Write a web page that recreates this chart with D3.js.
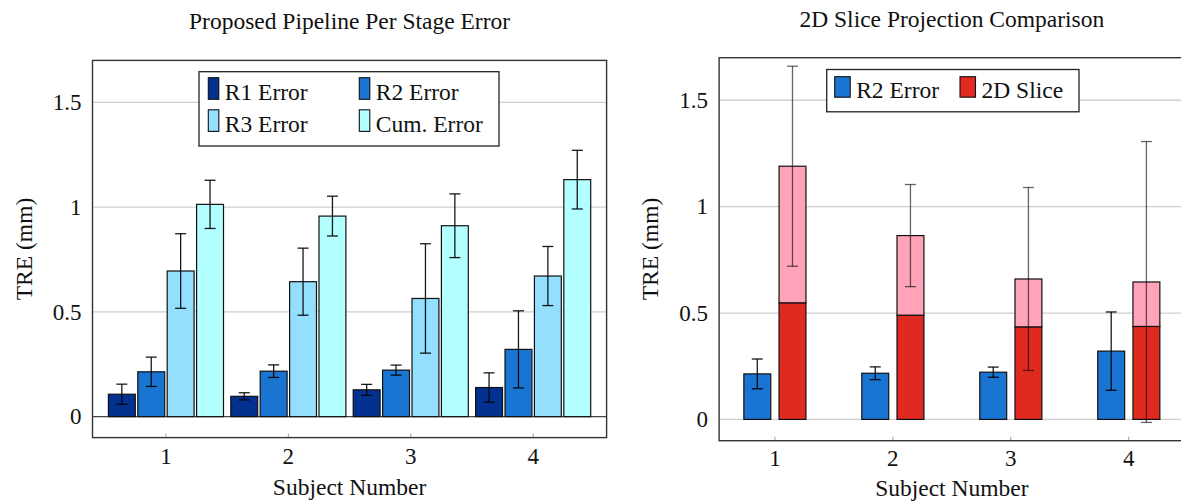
<!DOCTYPE html>
<html>
<head>
<meta charset="utf-8">
<script src="https://cdn.jsdelivr.net/npm/d3@7"></script>
<style>
  body { margin: 0; background: #fff; }
  text { font-family: "Liberation Serif", "Times New Roman", serif; fill: #111; }
  .grid line { stroke: #cfcfcf; stroke-width: 1.3; }
  .tick-label { font-size: 23px; }
  .axis-label { font-size: 23.5px; }
  .title { font-size: 23.5px; }
  .legend-text { font-size: 23.5px; }
</style>
</head>
<body>
<svg id="plot" width="1181" height="501"></svg>
<script>
// Data
const subjects = [1, 2, 3, 4];
const yTicks = [0, 0.5, 1, 1.5];

// left chart: per stage error (mean and half error bar)
const r1Mean = [0.107, 0.097, 0.128, 0.139];
const r1Err = [0.048, 0.017, 0.026, 0.070];
const r2Mean = [0.214, 0.217, 0.222, 0.321];
const r2Err = [0.070, 0.030, 0.024, 0.184];
const r3Mean = [0.695, 0.644, 0.564, 0.671];
const r3Err = [0.178, 0.160, 0.261, 0.141];
const cumMean = [1.013, 0.957, 0.911, 1.131];
const cumErr = [0.115, 0.095, 0.152, 0.140];

// right chart: R2 error vs 2D slice (stacked: lower part + upper part)
const sliceLower = [0.548, 0.490, 0.435, 0.437];
const sliceUpper = [0.642, 0.374, 0.225, 0.209];
const sliceErr = [0.470, 0.240, 0.430, 0.660];

const leftSeries = [
  { name: "R1 Error", mean: r1Mean, err: r1Err, color: "#02318f" },
  { name: "R2 Error", mean: r2Mean, err: r2Err, color: "#1a74d2" },
  { name: "R3 Error", mean: r3Mean, err: r3Err, color: "#93dffd" },
  { name: "Cum. Error", mean: cumMean, err: cumErr, color: "#b3ffff" }
];

const svg = d3.select("#plot");

// draws box, grid, tick labels and axis labels of one panel
function drawFrame(g, x, y, opts) {
  const [x0, x1] = x.range();
  const [yb, yt] = y.range();

  g.append("g").attr("class", "grid")
    .selectAll("line").data(yTicks).enter().append("line")
    .attr("x1", x0).attr("x2", x1)
    .attr("y1", d => y(d)).attr("y2", d => y(d))
    .style("stroke", d => (d === 0 && opts.darkZero) ? "#454545" : null);

  // small ticks on the bottom edge
  g.selectAll(".xt").data(subjects).enter().append("line")
    .attr("x1", d => x(d)).attr("x2", d => x(d))
    .attr("y1", yb).attr("y2", yb - 4)
    .attr("stroke", "#999").attr("stroke-width", 1);

  g.append("rect")
    .attr("x", x0).attr("y", yt)
    .attr("width", x1 - x0).attr("height", yb - yt)
    .attr("fill", "none").attr("stroke", "#333").attr("stroke-width", 1.4);

  g.selectAll(".ylab").data(yTicks).enter().append("text")
    .attr("class", "tick-label")
    .attr("x", x0 - 11).attr("y", d => y(d))
    .attr("dy", "0.34em")
    .attr("text-anchor", "end")
    .text(d => d);

  g.selectAll(".xlab").data(subjects).enter().append("text")
    .attr("class", "tick-label")
    .attr("x", d => x(d)).attr("y", opts.xTickY)
    .attr("text-anchor", "middle")
    .text(d => d);

  g.append("text")
    .attr("class", "axis-label")
    .attr("transform", `translate(${opts.yLabelX},249) rotate(-90)`)
    .attr("text-anchor", "middle")
    .text("TRE (mm)");

  g.append("text")
    .attr("class", "axis-label")
    .attr("x", (x0 + x1) / 2).attr("y", opts.xLabelY)
    .attr("text-anchor", "middle")
    .text("Subject Number");

  g.append("text")
    .attr("class", "title")
    .attr("x", (x0 + x1) / 2).attr("y", opts.titleY)
    .attr("text-anchor", "middle")
    .text(opts.title);
}

function errorBars(g, xs, lo, hi, y, color, opacity) {
  const eb = g.append("g")
    .attr("stroke", color).attr("stroke-width", 1.3)
    .attr("stroke-opacity", opacity);
  xs.forEach((cx, i) => {
    eb.append("line").attr("x1", cx).attr("x2", cx)
      .attr("y1", y(lo[i])).attr("y2", y(hi[i]));
    [lo[i], hi[i]].forEach(v => {
      eb.append("line").attr("x1", cx - 5.5).attr("x2", cx + 5.5)
        .attr("y1", y(v)).attr("y2", y(v));
    });
  });
}

// ---------------- left chart ----------------
const xL = d3.scaleLinear().domain([0.4, 4.6]).range([92.5, 606.6]);
const yL = d3.scaleLinear().domain([-0.1, 1.7]).range([437.6, 60.4]);
const gL = svg.append("g");

drawFrame(gL, xL, yL, {
  title: "Proposed Pipeline Per Stage Error",
  titleY: 29, xTickY: 464, xLabelY: 494.5, yLabelX: 31.5, darkZero: true
});

const barW = 26.9;
const stepL = 29.4;
leftSeries.forEach((s, k) => {
  const off = (k - 1.5) * stepL;
  gL.selectAll(null).data(s.mean).enter().append("rect")
    .attr("x", (d, i) => xL(subjects[i]) + off - barW / 2)
    .attr("y", d => yL(d))
    .attr("width", barW)
    .attr("height", d => yL(0) - yL(d))
    .attr("fill", s.color)
    .attr("stroke", "#111").attr("stroke-width", 1.2);
  errorBars(gL, subjects.map(v => xL(v) + off),
    s.mean.map((m, i) => m - s.err[i]),
    s.mean.map((m, i) => m + s.err[i]), yL, "#000", 0.9);
});

// legend left
const legL = gL.append("g");
legL.append("rect")
  .attr("x", 199).attr("y", 71.7).attr("width", 300).attr("height", 74.3)
  .attr("fill", "#fff").attr("stroke", "#222").attr("stroke-width", 1.3);
leftSeries.forEach((s, k) => {
  const lx = k % 2 === 0 ? 208.3 : 359.3;
  const ly = k < 2 ? 77.7 : 109.8;
  legL.append("rect")
    .attr("x", lx).attr("y", ly).attr("width", 10.5).attr("height", 21.6)
    .attr("fill", s.color).attr("stroke", "#111").attr("stroke-width", 1.1);
  legL.append("text").attr("class", "legend-text")
    .attr("x", lx + 16.5).attr("y", ly + 21.8)
    .text(s.name);
});

// ---------------- right chart ----------------
const xR = d3.scaleLinear().domain([0.527, 4.473]).range([719.1, 1184.6]);
const yR = d3.scaleLinear().domain([-0.1, 1.7]).range([440.7, 57.7]);
const gR = svg.append("g");

drawFrame(gR, xR, yR, {
  title: "2D Slice Projection Comparison",
  titleY: 27, xTickY: 466, xLabelY: 495.5, yLabelX: 658, darkZero: false
});

const offR = 17.6;
const blue = "#1a74d2", red = "#e0291f", pink = "#ffa3b9";

gR.selectAll(null).data(r2Mean).enter().append("rect")
  .attr("x", (d, i) => xR(subjects[i]) - offR - barW / 2)
  .attr("y", d => yR(d))
  .attr("width", barW)
  .attr("height", d => yR(0) - yR(d))
  .attr("fill", blue)
  .attr("stroke", "#111").attr("stroke-width", 1.2);
errorBars(gR, subjects.map(v => xR(v) - offR),
  r2Mean.map((m, i) => m - r2Err[i]),
  r2Mean.map((m, i) => m + r2Err[i]), yR, "#000", 0.9);

// stacked 2D slice bar
const sliceRows = subjects.map((s, i) => ({ lower: sliceLower[i], upper: sliceUpper[i] }));
const stacked = d3.stack().keys(["lower", "upper"])(sliceRows);
const stackColor = { lower: red, upper: pink };
stacked.forEach(layer => {
  gR.selectAll(null).data(layer).enter().append("rect")
    .attr("x", (d, i) => xR(subjects[i]) + offR - barW / 2)
    .attr("y", d => yR(d[1]))
    .attr("width", barW)
    .attr("height", d => yR(d[0]) - yR(d[1]))
    .attr("fill", stackColor[layer.key])
    .attr("stroke", "#111").attr("stroke-width", 1.2);
});
const sliceTotal = stacked[1].map(d => d[1]);
errorBars(gR, subjects.map(v => xR(v) + offR),
  sliceTotal.map((m, i) => m - sliceErr[i]),
  sliceTotal.map((m, i) => m + sliceErr[i]), yR, "#000", 0.6);

// legend right
const legR = gR.append("g");
legR.append("rect")
  .attr("x", 826.7).attr("y", 69.5).attr("width", 252.3).attr("height", 42.3)
  .attr("fill", "#fff").attr("stroke", "#222").attr("stroke-width", 1.3);
[{ name: "R2 Error", color: blue, x: 834.7 }, { name: "2D Slice", color: red, x: 960 }]
  .forEach(e => {
    legR.append("rect")
      .attr("x", e.x).attr("y", 76.7).attr("width", 15.5).attr("height", 20.5)
      .attr("fill", e.color).attr("stroke", "#111").attr("stroke-width", 1.1);
    legR.append("text").attr("class", "legend-text")
      .attr("x", e.x + 21.5).attr("y", 97.8)
      .text(e.name);
  });
</script>
</body>
</html>
